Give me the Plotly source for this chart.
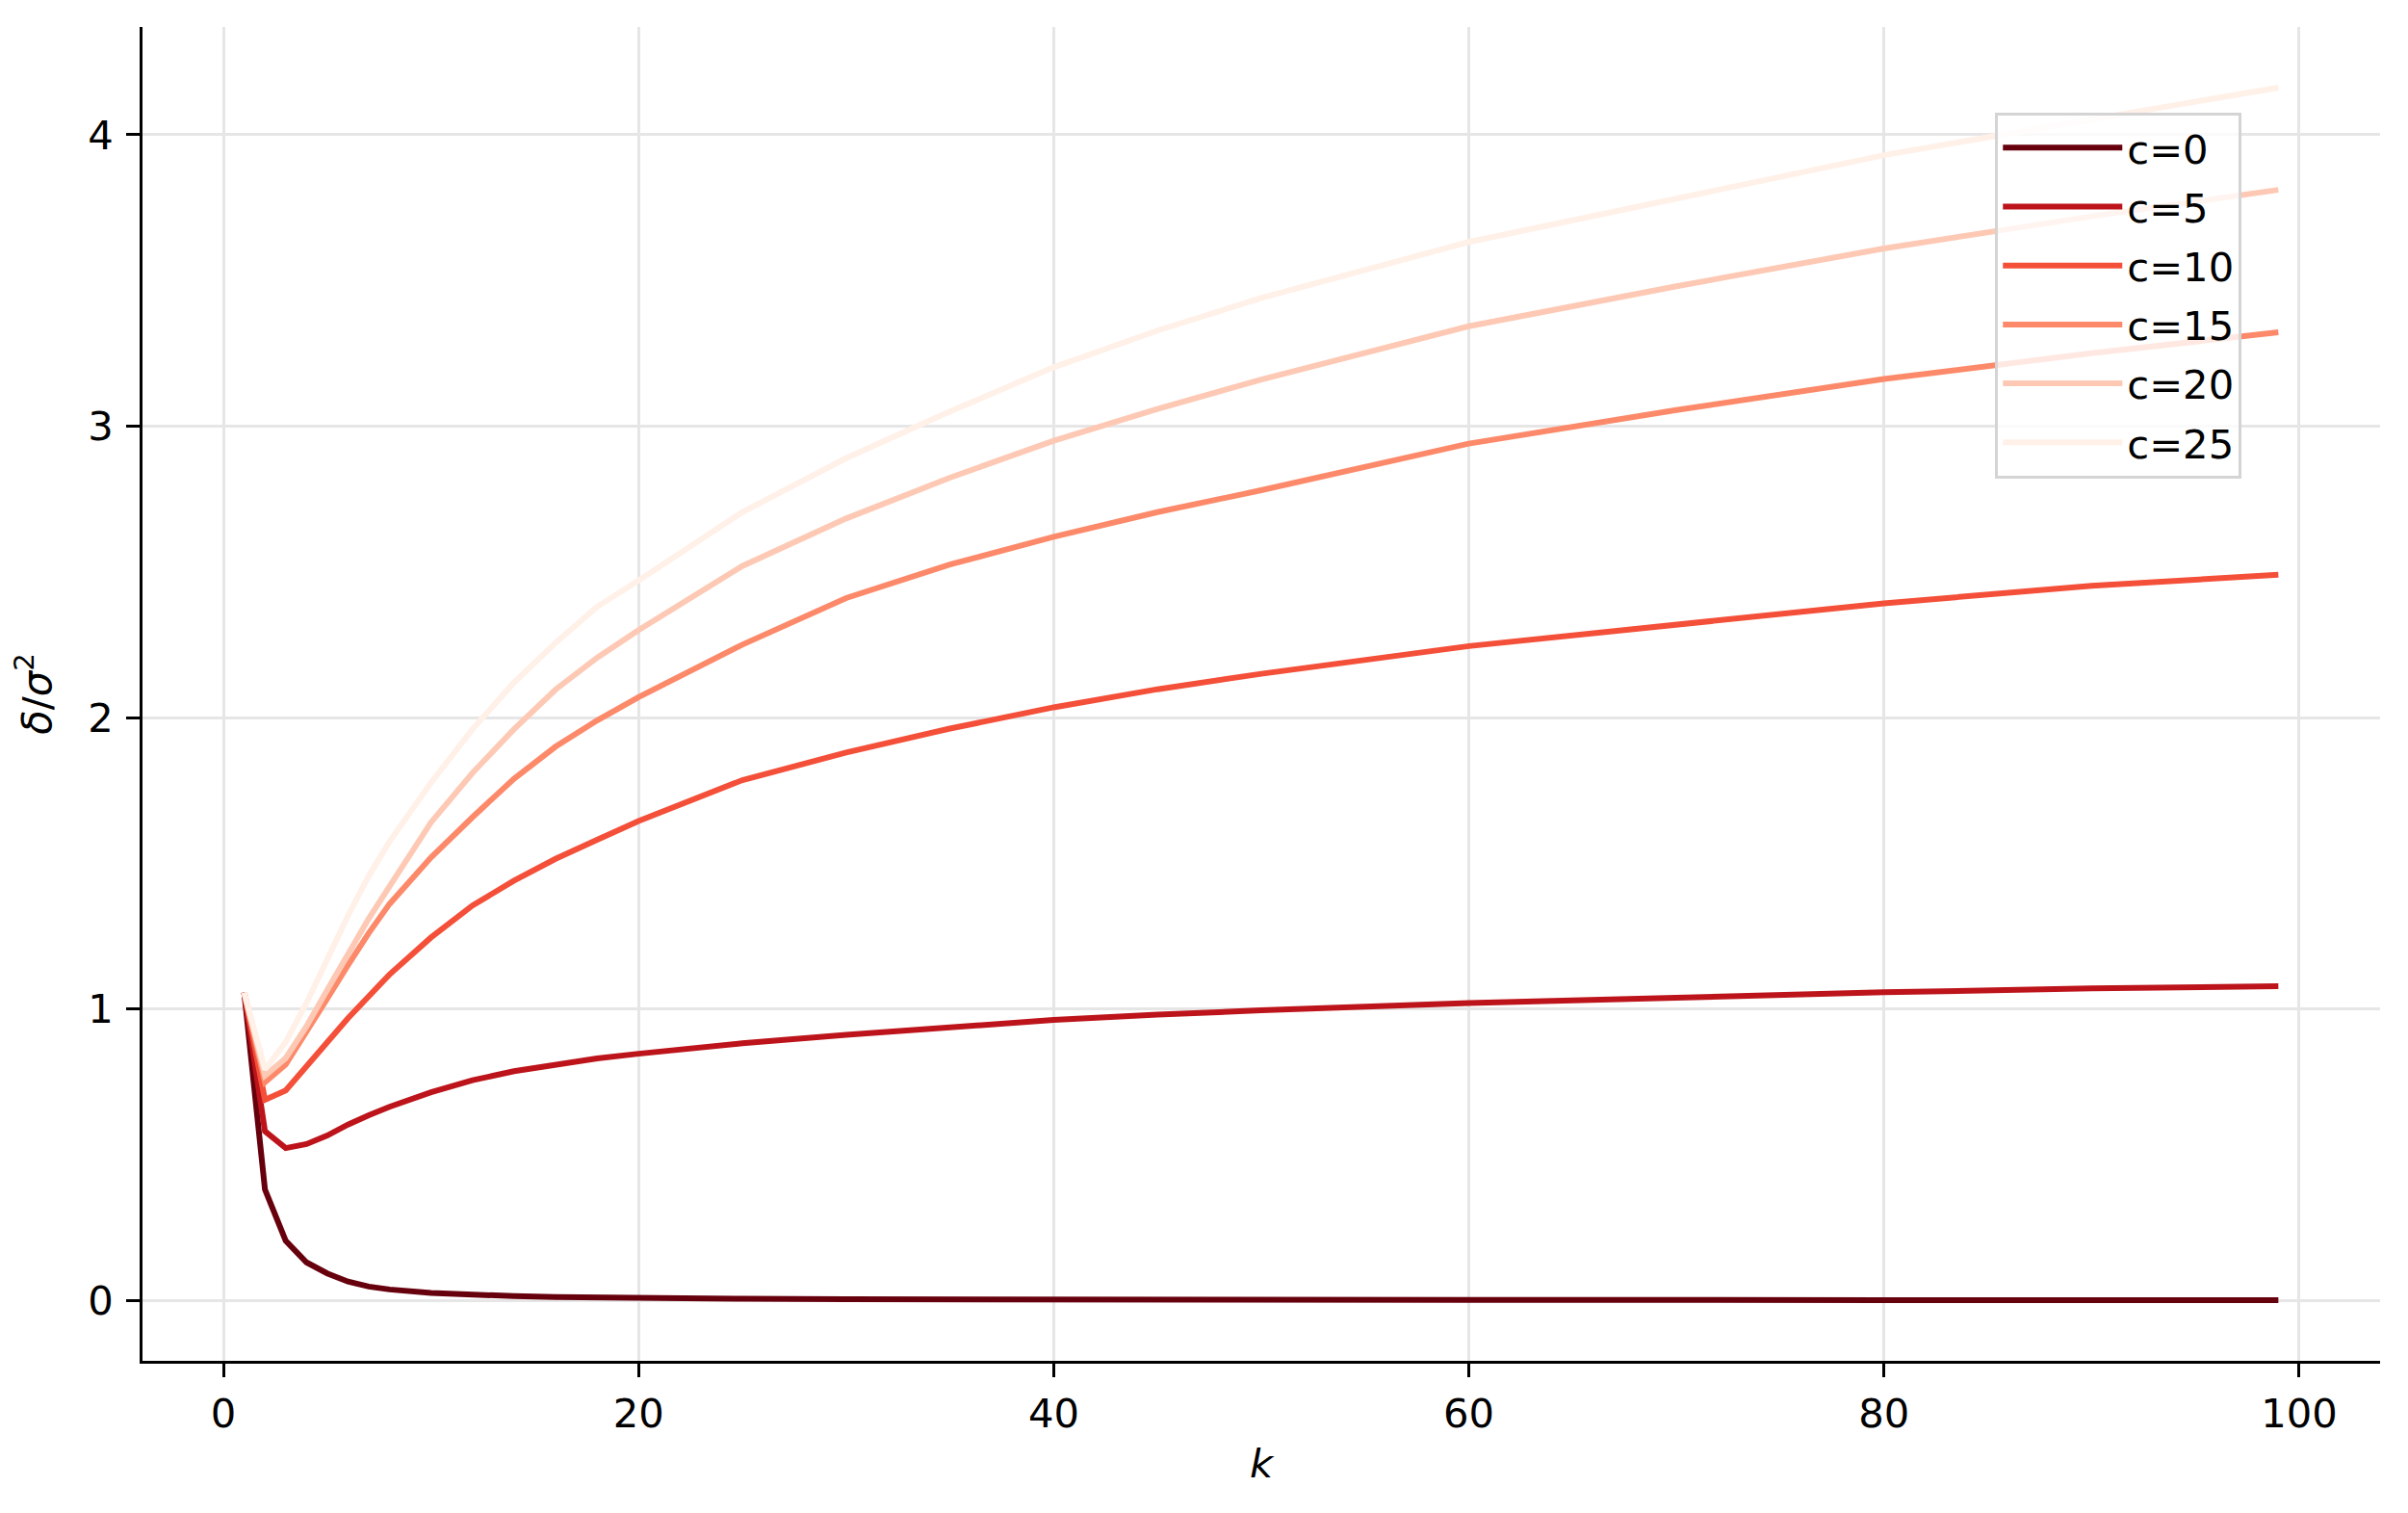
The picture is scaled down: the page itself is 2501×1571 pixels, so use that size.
import plotly.graph_objects as go

k_values = [1, 2, 3, 4, 5, 6, 7, 8, 10, 12, 14, 16, 18, 20, 25, 30, 35, 40, 45, 50, 60, 70, 80, 90, 99]

c_labels = ["c=0", "c=5", "c=10", "c=15", "c=20", "c=25"]

c0 = [1.056, 0.380, 0.204, 0.130, 0.092, 0.064, 0.047, 0.037, 0.025, 0.018, 0.014, 0.011, 0.009, 0.008,
      0.005, 0.0035, 0.0026, 0.002, 0.0016, 0.0013, 0.0009, 0.0007, 0.0005, 0.0004, 0.0003]
c5 = [1.056, 0.580, 0.522, 0.536, 0.565, 0.603, 0.635, 0.664, 0.714, 0.755, 0.786, 0.810, 0.830, 0.846,
      0.882, 0.911, 0.936, 0.962, 0.980, 0.995, 1.020, 1.040, 1.057, 1.070, 1.078]
c10 = [1.056, 0.688, 0.720, 0.800, 0.885, 0.968, 1.044, 1.118, 1.245, 1.355, 1.440, 1.515, 1.580, 1.645,
       1.785, 1.880, 1.962, 2.035, 2.097, 2.150, 2.245, 2.320, 2.392, 2.452, 2.490]
c15 = [1.056, 0.748, 0.809, 0.918, 1.035, 1.150, 1.260, 1.360, 1.520, 1.658, 1.790, 1.900, 1.990, 2.070,
       2.250, 2.410, 2.525, 2.620, 2.705, 2.780, 2.940, 3.055, 3.162, 3.250, 3.322]
c20 = [1.056, 0.771, 0.831, 0.940, 1.065, 1.190, 1.310, 1.420, 1.640, 1.810, 1.960, 2.096, 2.205, 2.300,
       2.520, 2.683, 2.823, 2.950, 3.059, 3.160, 3.343, 3.480, 3.610, 3.720, 3.811]
c25 = [1.056, 0.792, 0.886, 1.020, 1.170, 1.320, 1.456, 1.574, 1.776, 1.960, 2.120, 2.256, 2.380, 2.470,
       2.705, 2.890, 3.050, 3.202, 3.328, 3.440, 3.632, 3.783, 3.930, 4.053, 4.162]

series = [c0, c5, c10, c15, c20, c25]
colors = ["#67000d", "#bc141a", "#f44f39", "#fc8a6a", "#fdc9b4", "#fff0e8"]

x_ticks = [0, 20, 40, 60, 80, 100]
y_ticks = [0, 1, 2, 3, 4]

FONT = "DejaVu Sans"
FS = 41.7

fig = go.Figure()
for name, ys, col in zip(c_labels, series, colors):
    fig.add_trace(go.Scatter(x=k_values, y=ys, mode="lines", name=name,
                             legendgroup=name,
                             line=dict(color=col, width=6)))

axis_common = dict(
    showline=True, linecolor="black", linewidth=3,
    ticks="outside", ticklen=14, tickwidth=3, tickcolor="black",
    showgrid=True, gridcolor="#e6e6e6", gridwidth=3,
    zeroline=False, mirror=False, automargin=False,
    tickfont=dict(family=FONT, size=FS, color="black"),
)

fig.update_xaxes(range=[-3.9, 103.9], tickvals=x_ticks,
                 title=dict(text="<i>k</i>", font=dict(family=FONT, size=FS, color="black"), standoff=14),
                 ticklabelstandoff=2,
                 **axis_common)
fig.update_yaxes(range=[-0.208, 4.37], tickvals=y_ticks,
                 title=dict(text="<i>δ</i>/<i>σ</i><sup>2</sup>", font=dict(family=FONT, size=FS, color="black"), standoff=26),
                 ticklabelstandoff=5,
                 **axis_common)

fig.update_layout(
    width=2501, height=1571,
    margin=dict(l=140, r=37, t=20, b=166),
    plot_bgcolor="white", paper_bgcolor="white",
    font=dict(family=FONT, size=FS, color="black"),
    legend=dict(x=0.828, y=0.936, xanchor="left", yanchor="top",
                bgcolor="rgba(255,255,255,0.8)", bordercolor="#d4d4d4", borderwidth=3,
                font=dict(family=FONT, size=FS, color="black"),
                traceorder="grouped", tracegroupgap=4, itemwidth=124),
    showlegend=True,
)

fig.write_html("out.html")
